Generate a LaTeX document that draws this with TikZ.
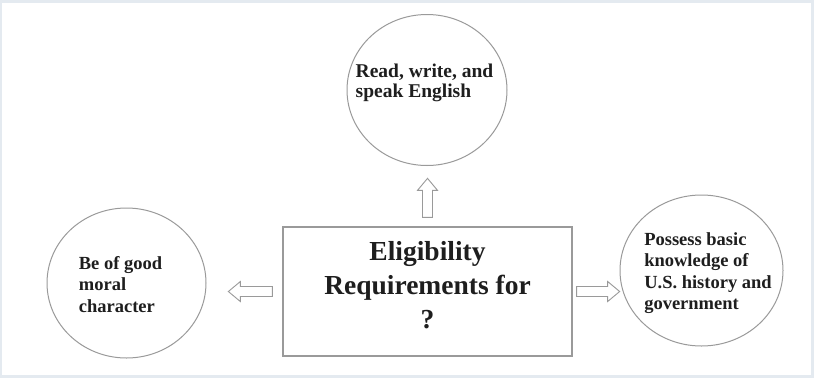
\documentclass[tikz,border=0pt]{standalone}
\usepackage{fontspec}
\setmainfont{Liberation Serif}
\usetikzlibrary{shapes.geometric,calc}
\definecolor{framecol}{HTML}{E4EAF0}
\definecolor{edgecol}{HTML}{9A9A9A}
\definecolor{inkcol}{HTML}{1E1E1E}
\begin{document}
\begin{tikzpicture}[x=1pt,y=-1pt,
  bubble/.style={ellipse, draw=edgecol, line width=1pt, inner sep=0},
  bubbletext/.style={align=left, font=\bfseries\fontsize{18.5}{21.5}\selectfont, text=inkcol, inner sep=0},
  box/.style={draw=edgecol, line width=1.3pt, inner sep=0},
  boxtext/.style={align=center, font=\bfseries\fontsize{27.5}{34}\selectfont, text=inkcol, inner sep=0},
  pics/barrow/.style={code={\draw[draw=edgecol, line width=0.9pt, fill=white] (0,-5)--(#1-12,-5)--(#1-12,-10)--(#1,0)--(#1-12,10)--(#1-12,5)--(0,5)--cycle;}}
]
\useasboundingbox (0,0) rectangle (814,378);
\fill[framecol] (0,0) rectangle (814,378);
\fill[white] (2,3) rectangle (811,375);

\node[bubble, minimum width=160pt, minimum height=151pt] (read) at (427,90) {};
\node[bubble, minimum width=159pt, minimum height=150pt] (moral) at (126.5,283) {};
\node[bubble, minimum width=163pt, minimum height=151pt] (civics) at (701.5,270.5) {};
\node[box, minimum width=289pt, minimum height=129pt] (req) at (427.5,291.5) {};

\node[bubbletext, font=\bfseries\fontsize{19.5}{20.5}\selectfont] (readText) at ([shift={(-2.5,-7)}]read.center) {Read, write, and\\speak English};
\node[bubbletext] (moralText) at ([shift={(-6,1.5)}]moral.center) {Be of good\\moral\\character};
\node[bubbletext] (civicsText) at ([shift={(6.5,2.5)}]civics.center) {Possess basic\\knowledge of\\U.S. history and\\government};
\node[boxtext] (reqText) at ([shift={(0,-6)}]req.center) {Eligibility\\Requirements for\\?};

\pic[rotate=90] (upArrow) at ([yshift=9pt]req.north) {barrow=39};
\pic[rotate=180] (leftArrow) at ([xshift=-10pt]req.west) {barrow=44};
\pic (rightArrow) at ([xshift=4pt]req.east) {barrow=43};
\end{tikzpicture}
\end{document}
